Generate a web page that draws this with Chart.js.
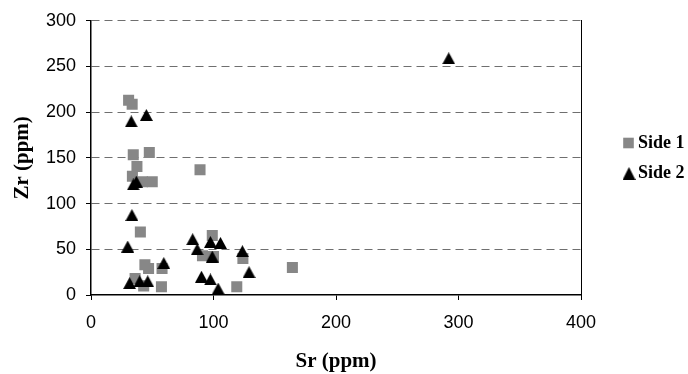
<!DOCTYPE html>
<html>
<head>
<meta charset="utf-8">
<script src="https://cdn.jsdelivr.net/npm/chart.js@4.4.0/dist/chart.umd.min.js"></script>
<style>
  html, body { margin: 0; padding: 0; background: #ffffff; }
  #wrap { width: 688px; height: 374px; }
</style>
</head>
<body>
<div id="wrap"><canvas id="c" width="688" height="374"></canvas></div>
<script>
// ---- data ----
const side1Sr = [30.7, 33.6, 34.5, 47.6, 37.5, 33.8, 42, 50, 89, 40.3, 44, 47, 58, 36, 43, 57.5, 99, 91, 100, 124, 119, 164.4];
const side1Zr = [213, 208.6, 153.5, 156, 140.5, 130, 124, 124, 137, 69, 33, 29, 29, 18, 10, 9, 65, 43, 42, 40, 9, 30];
const side2Sr = [32.9, 45.2, 34.5, 37, 33.4, 30, 59.4, 31.5, 39.7, 46.3, 83, 86.7, 97.5, 105.7, 99, 123.6, 129, 90.2, 97.5, 103.8, 292];
const side2Zr = [190, 197, 121, 124, 87.5, 53, 35, 13, 15, 15, 61, 50, 58, 57, 42, 48, 25, 20, 17, 7, 259];
const seriesNames = ['Side 1', 'Side 2'];
const xTitle = 'Sr (ppm)';
const yTitle = 'Zr (ppm)';
const xRange = [0, 400, 100];
const yRange = [0, 300, 50];

const toPoints = (xs, ys) => xs.map((x, i) => ({ x: x, y: ys[i] }));

// triangle marker centred on its bounding box (as in the reference)
function makeTriangle(w, h, color) {
  const cv = document.createElement('canvas');
  cv.width = w; cv.height = h;
  const g = cv.getContext('2d');
  g.fillStyle = color;
  g.beginPath();
  g.moveTo(w / 2, 0);
  g.lineTo(w, h);
  g.lineTo(0, h);
  g.closePath();
  g.fill();
  return cv;
}
const triMarker = makeTriangle(13, 12, '#000000');
const triLegend = makeTriangle(13, 13, '#000000');

const legendPlugin = {
  id: 'sideLegend',
  afterDraw(chart) {
    const ctx = chart.ctx;
    ctx.save();
    chart.data.datasets.forEach((ds, i) => {
      const cy = 143 + i * 30.5;
      const cx = 628.5;
      if (ds.pointStyle === 'rect') {
        ctx.fillStyle = ds.pointBackgroundColor;
        ctx.fillRect(cx - 5.3, cy - 5.3, 10.6, 10.6);
      } else {
        ctx.drawImage(triLegend, cx - 6, cy - 6.5);
      }
      ctx.fillStyle = '#000000';
      ctx.font = 'bold 18px "Liberation Serif", "Times New Roman", serif';
      ctx.textAlign = 'left';
      ctx.textBaseline = 'middle';
      ctx.fillText(ds.label, 638, cy);
    });
    ctx.restore();
  }
};

const tickFont = { family: '"Liberation Sans", Arial, sans-serif', size: 18 };
const titleFont = { family: '"Liberation Serif", "Times New Roman", serif', size: 21, weight: 'bold', lineHeight: 1.2 };

new Chart(document.getElementById('c'), {
  type: 'scatter',
  data: {
    datasets: [
      {
        label: seriesNames[0],
        data: toPoints(side1Sr, side1Zr),
        pointStyle: 'rect',
        pointRadius: 7.8,
        pointHoverRadius: 7.8,
        pointBackgroundColor: '#878787',
        pointBorderWidth: 0,
        borderWidth: 0,
        order: 1
      },
      {
        label: seriesNames[1],
        data: toPoints(side2Sr, side2Zr),
        pointStyle: triMarker,
        pointRadius: 7.5,
        pointHoverRadius: 7.5,
        pointBackgroundColor: '#000000',
        pointBorderWidth: 0,
        borderWidth: 0,
        order: 0
      }
    ]
  },
  options: {
    responsive: false,
    animation: false,
    devicePixelRatio: 1,
    layout: { padding: { left: 0, right: 107, top: 18, bottom: 0 } },
    plugins: {
      legend: { display: false },
      tooltip: { enabled: false }
    },
    scales: {
      x: {
        type: 'linear',
        position: 'bottom',
        min: xRange[0], max: xRange[1],
        ticks: { stepSize: xRange[2], color: '#000000', font: tickFont, padding: 12, maxRotation: 0 },
        grid: { drawOnChartArea: false, drawTicks: true, tickLength: 5, tickColor: '#000000', tickWidth: 1 },
        border: { display: true, color: '#000000', width: 1.5 },
        title: { display: true, text: xTitle, color: '#000000', font: titleFont, padding: { top: 0, bottom: 0 } },
        afterFit(s) { s.height = 79; }
      },
      y: {
        type: 'linear',
        position: 'left',
        min: yRange[0], max: yRange[1],
        ticks: { stepSize: yRange[2], color: '#000000', font: tickFont, padding: 10 },
        grid: {
          drawOnChartArea: true, drawTicks: true, tickLength: 5,
          tickColor: '#000000', tickWidth: 1, tickBorderDash: [],
          color: (c) => (c.tick && c.tick.value === 0 ? 'rgba(0,0,0,0)' : '#6f6f6f'),
          lineWidth: 1
        },
        border: { display: true, color: '#000000', width: 1.5, dash: [8, 5] },
        title: { display: true, text: yTitle, color: '#000000', font: titleFont, padding: { top: 10, bottom: 0 } },
        afterFit(s) { s.width = 91; }
      },
      yRight: {
        type: 'linear',
        position: 'right',
        min: yRange[0], max: yRange[1],
        ticks: { display: false },
        grid: { display: false, drawTicks: false },
        border: { display: true, color: '#000000', width: 1 },
        afterFit(s) { s.width = 0; }
      }
    }
  },
  plugins: [legendPlugin]
});
</script>
</body>
</html>
